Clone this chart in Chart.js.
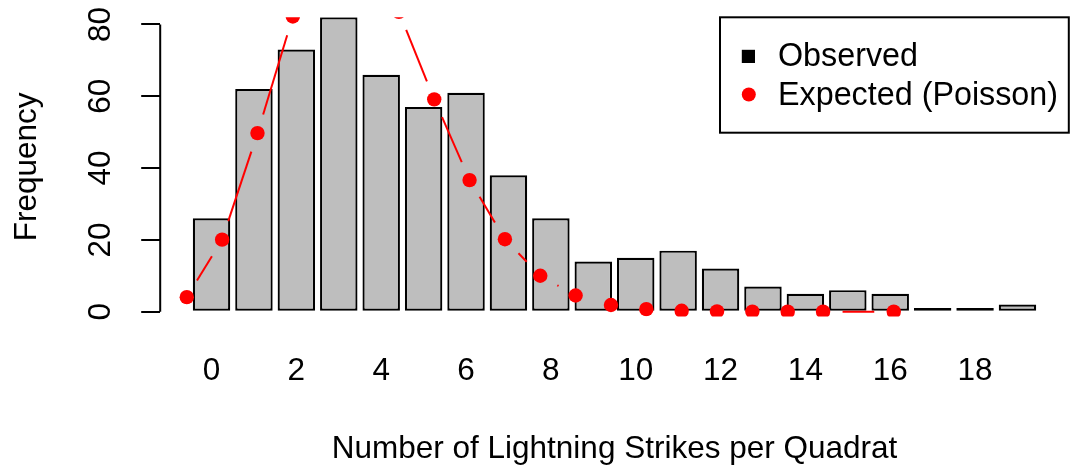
<!DOCTYPE html>
<html>
<head>
<meta charset="utf-8">
<title>Lightning strikes per quadrat</title>
<script src="https://cdn.jsdelivr.net/npm/chart.js@4.4.1/dist/chart.umd.min.js"></script>
<style>
    html, body { margin: 0; padding: 0; background: #fff; overflow: hidden; }
    canvas { display: block; }
</style>
</head>
<body>
<canvas id="doThi" width="1076" height="468"></canvas>
<script>
// strikes per quadrat (no quadrat had 19, so the last class is 20)
var categories = ['0', '1', '2', '3', '4', '5', '6', '7', '8', '9', '10',
    '11', '12', '13', '14', '15', '16', '17', '18', '20'];
var observed = [26, 62, 73, 82, 66, 57, 61, 38, 26, 14, 15, 17, 12, 7, 5, 6, 5, 1, 1, 2];
var expected = [4.05, 20.07, 49.75, 82.22, 101.9, 101.1, 83.5, 59.15, 36.66, 20.19,
    10.01, 4.51, 1.87, 0.71, 0.25, 0.08, 0.03, 0.01, 0, 0];
var yTicks = [0, 20, 40, 60, 80];

var FONT = '"Liberation Sans", Arial, Helvetica, sans-serif';
var FONT_SIZE = 31.5;
var SPACE = 0.2;   // gap between bars, bar width is 1

function barCenter(i) {
    return SPACE + 0.5 + i * (1 + SPACE);
}

var xLo = SPACE;
var xHi = categories.length * (1 + SPACE);
var xPad = (xHi - xLo) * 0.04;

var barData = observed.map(function (v, i) {
    return { x: barCenter(i), y: v };
});
// expected counts go on the raw count value, not on the bar slot
var pointData = expected.map(function (v, i) {
    return { x: Number(categories[i]), y: v };
});

// lines between points with a gap round each point
var joinPoints = {
    id: 'joinPoints',
    afterDatasetsDraw: function (chart) {
        var pts = chart.getDatasetMeta(1).data;
        var a = chart.chartArea;
        var ctx = chart.ctx;
        var gap = 19.5;
        ctx.save();
        ctx.beginPath();
        ctx.rect(a.left, a.top, a.right - a.left, a.bottom - a.top);
        ctx.clip();
        ctx.strokeStyle = '#ff0000';
        ctx.lineWidth = 2;
        for (var i = 1; i < pts.length; i++) {
            var p = pts[i - 1], q = pts[i];
            var dx = q.x - p.x, dy = q.y - p.y;
            var d = Math.sqrt(dx * dx + dy * dy);
            if (d <= 2 * gap) continue;
            var ux = dx / d, uy = dy / d;
            ctx.beginPath();
            ctx.moveTo(p.x + ux * gap, p.y + uy * gap);
            ctx.lineTo(q.x - ux * gap, q.y - uy * gap);
            ctx.stroke();
        }
        ctx.restore();
    }
};

// y axis line only from first to last tick, plus the boxed legend
var axisAndLegend = {
    id: 'axisAndLegend',
    afterDraw: function (chart) {
        var ctx = chart.ctx;
        var y = chart.scales.y;
        var a = chart.chartArea;
        ctx.save();
        ctx.strokeStyle = '#000';
        ctx.lineWidth = 2;
        ctx.beginPath();
        ctx.moveTo(y.right, y.getPixelForValue(yTicks[0]));
        ctx.lineTo(y.right, y.getPixelForValue(yTicks[yTicks.length - 1]));
        ctx.stroke();

        var left = 720, top = a.top, bottom = 132.7;
        ctx.fillStyle = '#fff';
        ctx.fillRect(left, top, a.right - left, bottom - top);
        ctx.strokeRect(left, top, a.right - left, bottom - top);

        ctx.fillStyle = '#000';
        ctx.fillRect(741.8, 49.8, 13.2, 13.2);
        ctx.fillStyle = '#ff0000';
        ctx.beginPath();
        ctx.arc(748.8, 94.5, 7, 0, Math.PI * 2);
        ctx.fill();

        ctx.fillStyle = '#000';
        ctx.font = '32.3px ' + FONT;
        ctx.textAlign = 'left';
        ctx.textBaseline = 'alphabetic';
        ctx.fillText(chart.data.datasets[0].label, 778, 65.5);
        ctx.fillText(chart.data.datasets[1].label, 778, 104.5);
        ctx.restore();
    }
};

var ctx = document.getElementById('doThi').getContext('2d');
var myChart = new Chart(ctx, {
    type: 'bar',
    data: {
        datasets: [{
            label: 'Observed',
            data: barData,
            backgroundColor: '#bebebe',
            borderColor: '#000',
            borderWidth: 2.2,
            borderSkipped: false,
            barPercentage: 1.06,
            categoryPercentage: 1 / (1 + SPACE),
            clip: 0,
            order: 2
        }, {
            type: 'line',
            label: 'Expected (Poisson)',
            data: pointData,
            showLine: false,
            pointRadius: 7.2,
            pointBorderWidth: 0,
            pointBackgroundColor: '#ff0000',
            backgroundColor: '#ff0000',
            clip: 0,
            order: 1
        }]
    },
    options: {
        responsive: false,
        animation: false,
        events: [],
        layout: { padding: { top: 17.3, right: 0.7, bottom: 0, left: 0 } },
        plugins: {
            legend: { display: false },
            tooltip: { enabled: false }
        },
        scales: {
            x: {
                type: 'linear',
                offset: false,
                min: xLo - xPad,
                max: xHi + xPad,
                grid: { display: false, drawTicks: false },
                border: { display: false },
                afterBuildTicks: function (scale) {
                    // every second label, the others would overlap
                    var ticks = [];
                    categories.forEach(function (c, i) {
                        if (i % 2 === 0) ticks.push({ value: barCenter(i), label: c });
                    });
                    scale.ticks = ticks;
                },
                afterFit: function (scale) {
                    scale.height = 151.5;
                    scale.paddingLeft = 0;
                    scale.paddingRight = 0;
                },
                ticks: {
                    autoSkip: false,
                    maxRotation: 0,
                    padding: 35.8,
                    color: '#000',
                    font: { family: FONT, size: FONT_SIZE },
                    callback: function (value, index, ticks) {
                        return ticks[index].label;
                    }
                },
                title: {
                    display: true,
                    text: 'Number of Lightning Strikes per Quadrat',
                    color: '#000',
                    font: { family: FONT, size: FONT_SIZE },
                    padding: { top: 0, bottom: 0 }
                }
            },
            y: {
                min: -1.34,
                max: 82,
                grid: {
                    drawOnChartArea: false,
                    drawTicks: true,
                    tickLength: 19,
                    color: '#000',
                    lineWidth: 2
                },
                border: { display: false },
                afterBuildTicks: function (scale) {
                    scale.ticks = yTicks.map(function (v) { return { value: v }; });
                },
                afterFit: function (scale) {
                    scale.width = 160.2;
                    scale.paddingTop = 0;
                    scale.paddingBottom = 0;
                },
                ticks: {
                    minRotation: 90,
                    maxRotation: 90,
                    crossAlign: 'center',
                    padding: 22.7,
                    color: '#000',
                    font: { family: FONT, size: FONT_SIZE }
                },
                title: {
                    display: true,
                    text: 'Frequency',
                    color: '#000',
                    font: { family: FONT, size: FONT_SIZE },
                    padding: { top: 8, bottom: 0 }
                }
            }
        }
    },
    plugins: [joinPoints, axisAndLegend]
});
</script>
</body>
</html>
